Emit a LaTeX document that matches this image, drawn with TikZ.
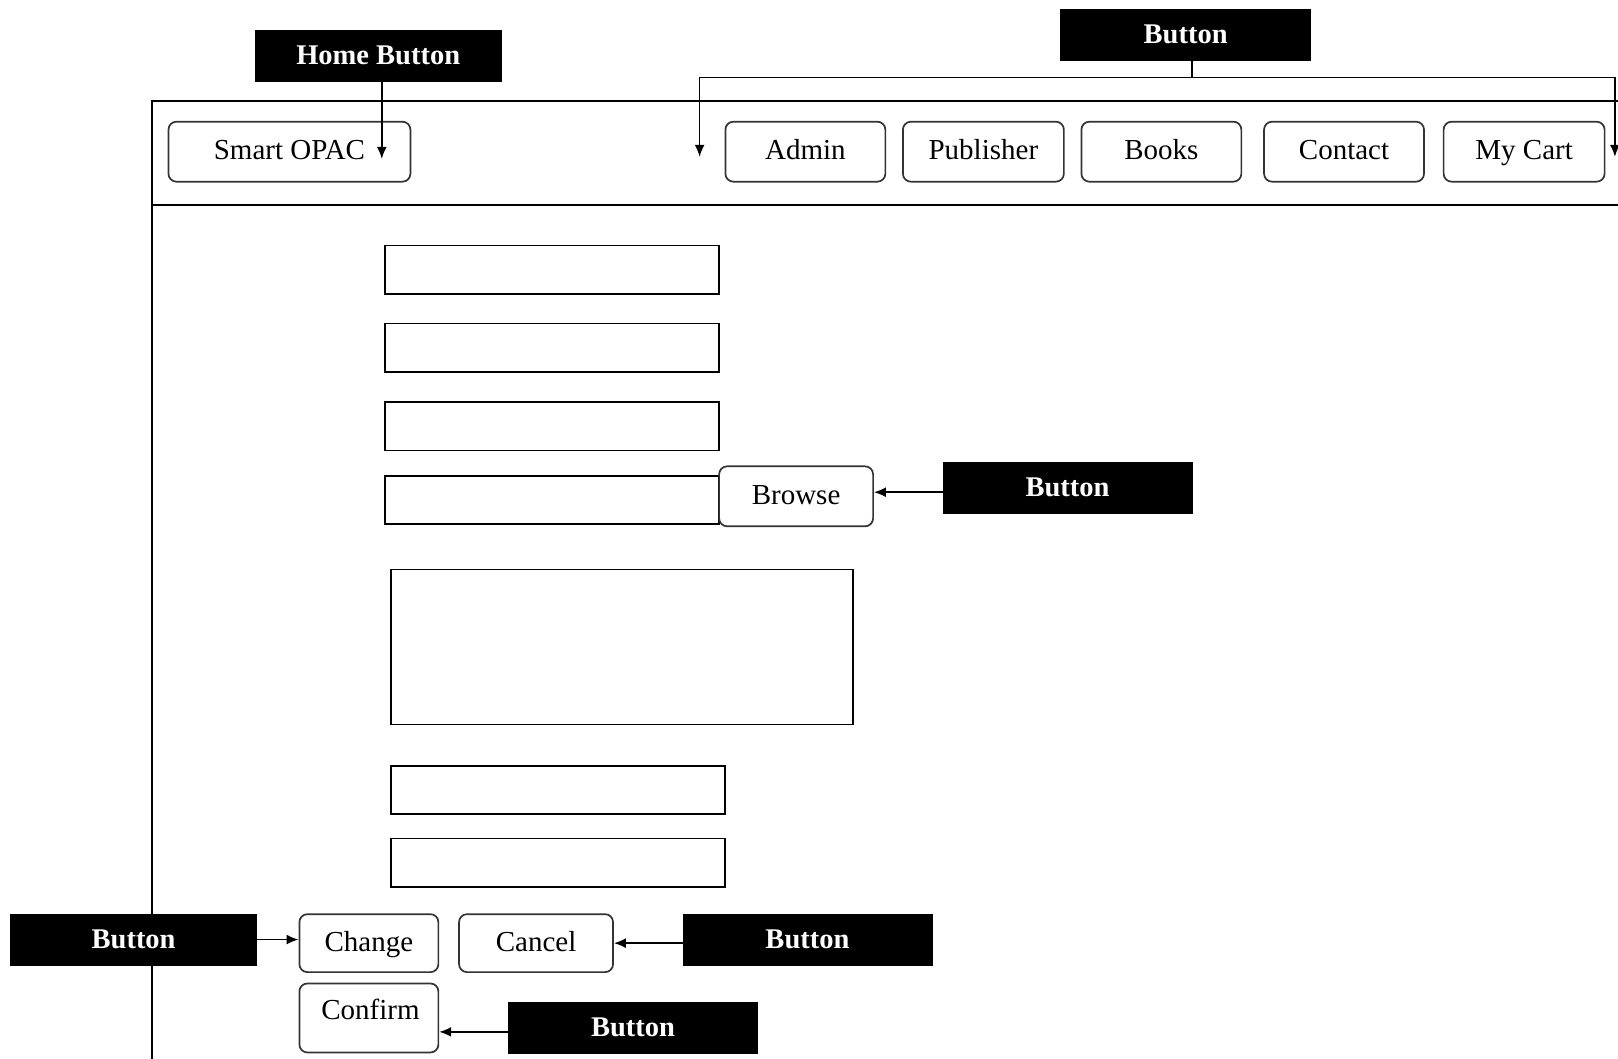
\documentclass[tikz,border=0pt]{standalone}
\usepackage{fontspec}
\setmainfont{Liberation Serif}
\usetikzlibrary{arrows.meta}
\begin{document}
\begin{tikzpicture}[x=1.032pt,y=-1.032pt,
  every node/.style={font=\fontsize{29}{34}\selectfont},
  lbl/.style={fill=black,draw=black,text=white,font=\fontsize{28.5}{34}\selectfont\bfseries,inner sep=0pt,text height=22pt,text depth=4pt},
  btn/.style={draw=black!80,line width=1.7pt,rounded corners=8pt,fill=white,inner sep=0pt,text height=21pt,text depth=5pt},
  fld/.style={draw=black,line width=1.7pt,fill=white,inner sep=0pt},
  arr/.style={line width=1.7pt,-{Latex[length=12pt,width=10pt]}},
  ln/.style={line width=1.7pt}]
\useasboundingbox (0,0) rectangle (1568,1026);
% frame
\draw[ln] (1568,98) -- (147,98) -- (147,1026);
\draw[ln] (147,199) -- (1568,199);
% top labels
\node[lbl,minimum width=246pt,minimum height=51pt] (home) at (366.5,53.5) {Home Button};
\node[lbl,minimum width=250pt,minimum height=51pt] (topbtn) at (1149,33.5) {Button};
% nav buttons
\node[btn,minimum width=242pt,minimum height=60pt] (opac) at (280.5,147) {Smart OPAC\hspace{20pt}};
\node[btn,minimum width=160pt,minimum height=60pt] (admin) at (780.5,147) {Admin};
\node[btn,minimum width=161pt,minimum height=60pt] (pub) at (953,147) {Publisher};
\node[btn,minimum width=160pt,minimum height=60pt] (books) at (1125.5,147) {Books};
\node[btn,minimum width=160pt,minimum height=60pt] (contact) at (1302.5,147) {Contact};
\node[btn,minimum width=161pt,minimum height=60pt] (cart) at (1477,147) {My Cart};
% connectors top
\coordinate (homeTip) at (370,154);
\draw[arr] (home.south -| homeTip) -- (homeTip);
\coordinate (brJ) at (1155,75);
\coordinate (brL) at (678,152);
\coordinate (brR) at (1565,152);
\draw[ln] (topbtn.south -| brJ) -- (brJ);
\draw[arr] (brJ) -- (brJ -| brL) -- (brL);
\draw[arr] (brJ) -- (brJ -| brR) -- (brR);
% fields
\node[fld,minimum width=334pt,minimum height=48.5pt] (f1) at (535,261.5) {};
\node[fld,minimum width=334pt,minimum height=48.5pt] (f2) at (535,337) {};
\node[fld,minimum width=334pt,minimum height=48.5pt] (f3) at (535,413) {};
\node[fld,minimum width=334pt,minimum height=48.5pt] (f4) at (535,484.5) {};
\node[btn,minimum width=154pt,minimum height=60pt] (browse) at (771.5,481) {Browse};
\node[lbl,minimum width=249pt,minimum height=51pt] (bbtn) at (1034.5,472.5) {Button};
\draw[arr] (bbtn.west |- 0,477) -- (browse.east |- 0,477);
\node[fld,minimum width=462pt,minimum height=155pt] (area) at (603,627) {};
\node[fld,minimum width=334pt,minimum height=48.5pt] (f5) at (541,765.5) {};
\node[fld,minimum width=334pt,minimum height=48.5pt] (f6) at (541,836) {};
% bottom buttons
\node[btn,minimum width=139pt,minimum height=58pt] (change) at (357.5,914) {Change};
\node[btn,minimum width=154pt,minimum height=58pt] (cancel) at (519.5,914) {Cancel};
\node[btn,minimum width=139pt,minimum height=69pt] (confirm) at (357.5,986.5) {};
\node[text height=21pt,text depth=5pt,inner sep=0pt] (confirmtxt) at (359,980) {Confirm};
\node[lbl,minimum width=246pt,minimum height=51pt] (lbtn) at (129.5,910.5) {Button};
\node[lbl,minimum width=249pt,minimum height=51pt] (cbtn) at (782.5,910.5) {Button};
\node[lbl,minimum width=249pt,minimum height=51pt] (fbtn) at (613.5,995.5) {Button};
\draw[arr] (lbtn.east) -- (change.west |- lbtn.east);
\draw[arr] (cbtn.west |- 0,914) -- (cancel.east |- 0,914);
\draw[arr] (fbtn.west |- 0,1000) -- (confirm.east |- 0,1000);
\end{tikzpicture}
\end{document}
